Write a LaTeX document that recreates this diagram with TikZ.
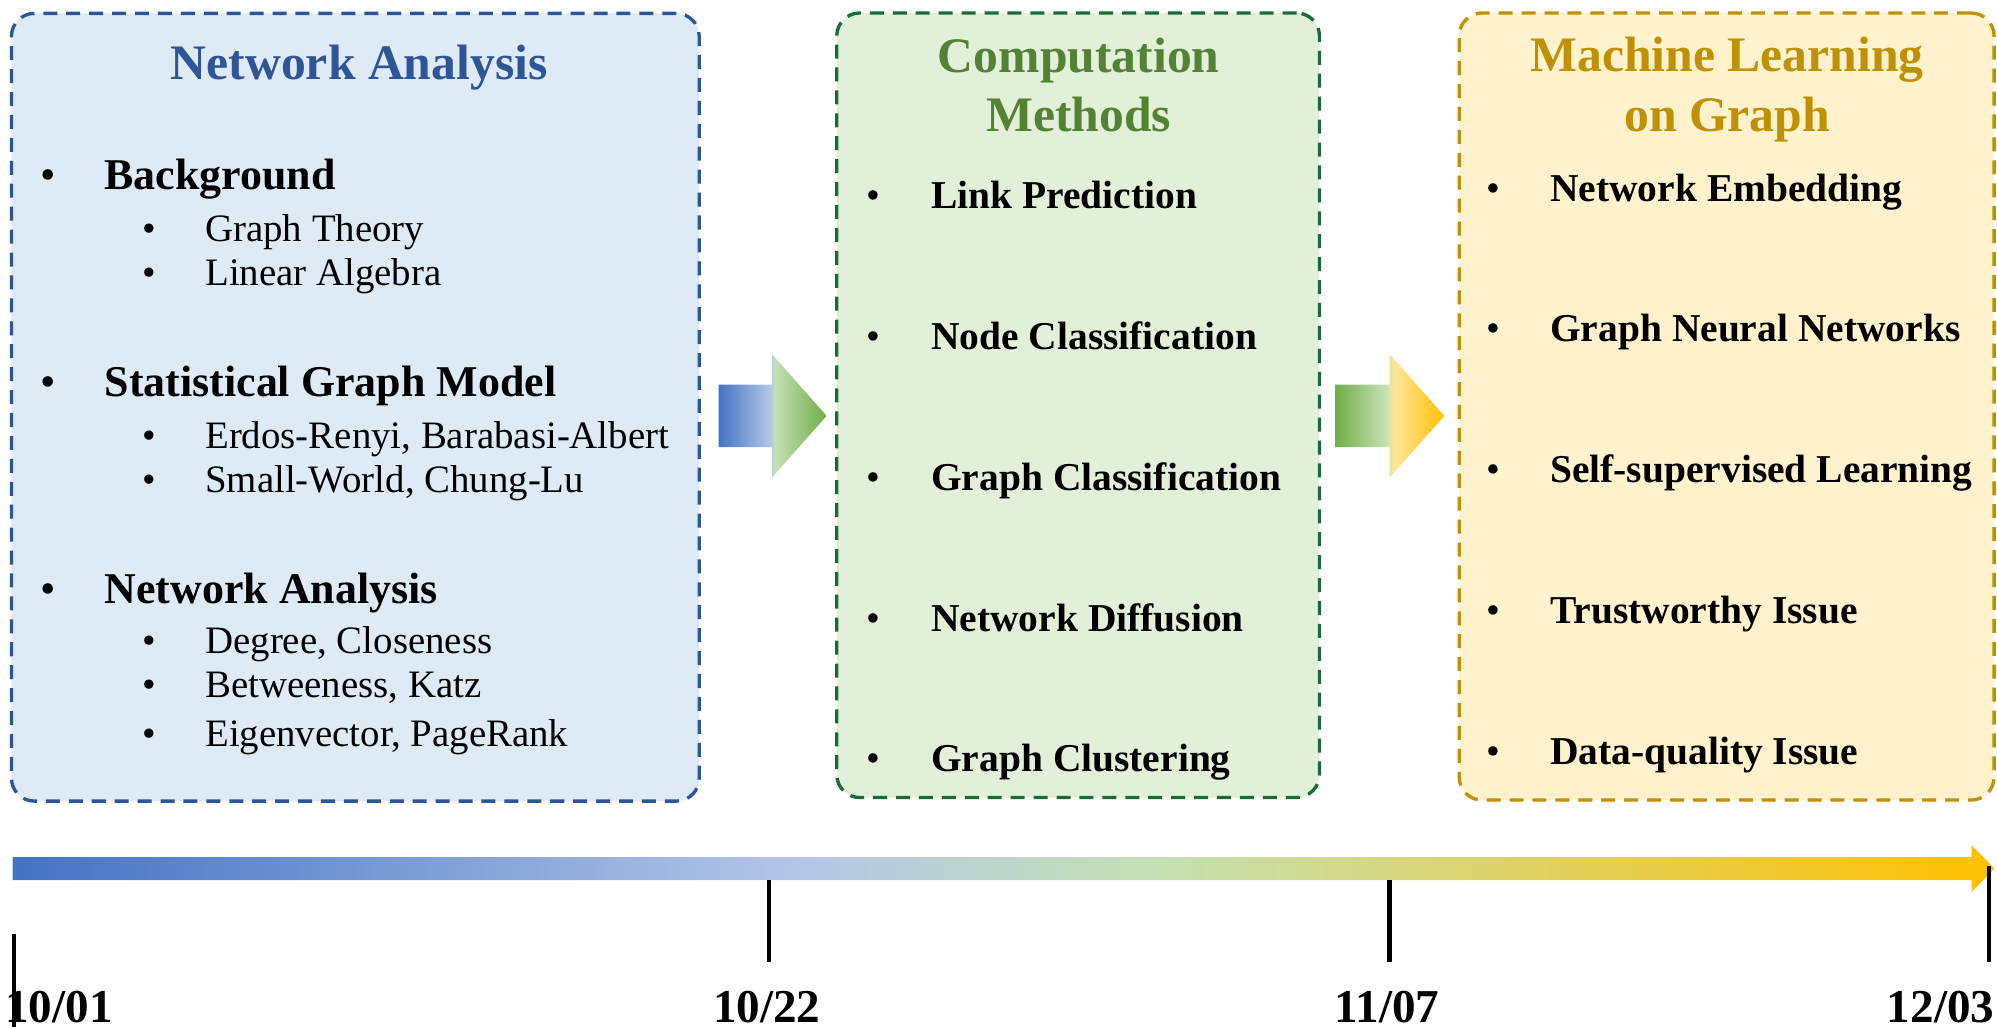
\documentclass[tikz,border=0pt]{standalone}
\usepackage{fontspec}
\setmainfont{Liberation Serif}
\usetikzlibrary{calc}

% palette
\definecolor{naBlue}{HTML}{2F5597}
\definecolor{naFill}{HTML}{DEEBF7}
\definecolor{cmGreen}{HTML}{548235}
\definecolor{cmLine}{HTML}{1B6B3A}
\definecolor{cmFill}{HTML}{E2F0D9}
\definecolor{mlGold}{HTML}{BF9000}
\definecolor{mlFill}{HTML}{FFF2CC}
\definecolor{gBlue}{HTML}{4472C4}
\definecolor{gPaleBlue}{HTML}{B4C7E7}
\definecolor{gPaleGreen}{HTML}{C5E0B4}
\definecolor{gGreen}{HTML}{70AD47}
\definecolor{gPaleGold}{HTML}{FFE699}
\definecolor{gGold}{HTML}{FFC000}

% gradients (the path box maps onto 25bp..75bp)
\pgfdeclarehorizontalshading{timebar}{100bp}{color(0bp)=(gBlue); color(25bp)=(gBlue);
  color(45bp)=(gPaleBlue); color(53.75bp)=(gPaleGreen); color(75bp)=(gGold); color(100bp)=(gGold)}
\pgfdeclarehorizontalshading{blueToGreen}{100bp}{color(0bp)=(gBlue); color(25bp)=(gBlue);
  color(49bp)=(gPaleBlue); color(51bp)=(gPaleGreen); color(75bp)=(gGreen); color(100bp)=(gGreen)}
\pgfdeclarehorizontalshading{greenToGold}{100bp}{color(0bp)=(gGreen); color(25bp)=(gGreen);
  color(48bp)=(gPaleGreen); color(52bp)=(gPaleGold); color(75bp)=(gGold); color(100bp)=(gGold)}

\begin{document}
\begin{tikzpicture}[x=1pt, y=-1pt,
  panel/.style={draw, rounded corners=18pt, line width=2.6pt,
    dash pattern=on 11pt off 7pt, inner sep=0pt},
  ptitle/.style={font=\fontsize{39}{46}\selectfont\bfseries, inner sep=0pt, anchor=base},
  lvlone/.style={font=\fontsize{34.5}{40}\selectfont\bfseries, inner sep=0pt, anchor=base west},
  lvltwo/.style={font=\fontsize{30.5}{36}\selectfont, inner sep=0pt, anchor=base west},
  itemtext/.style={font=\fontsize{31}{36}\selectfont\bfseries, inner sep=0pt, anchor=base west},
  dotone/.style={font=\fontsize{34.5}{40}\selectfont, inner sep=0pt, anchor=base},
  dottwo/.style={font=\fontsize{30.5}{36}\selectfont, inner sep=0pt, anchor=base},
  dotitem/.style={font=\fontsize{31}{36}\selectfont, inner sep=0pt, anchor=base},
  tick/.style={line width=3.2pt, black},
  datelabel/.style={font=\fontsize{37}{42}\selectfont\bfseries, inner sep=0pt}
]
\useasboundingbox (0,0) rectangle (1568,808);

% ---------- panels ----------
\node[panel, draw=naBlue, fill=naFill, minimum width=540pt, minimum height=618.5pt]
  (na) at (279,319.75) {};
\node[panel, draw=cmLine, fill=cmFill, minimum width=379pt, minimum height=616pt]
  (cm) at (846.5,318.2) {};
\node[panel, draw=mlGold, fill=mlFill, minimum width=420pt, minimum height=618pt]
  (ml) at (1355.7,319.2) {};

% ---------- Network Analysis panel ----------
\node[ptitle, text=naBlue] (naT) at (282,62.8) {Network Analysis};

\node[dotone] (b1) at (38,149) {\textbullet};
\node[lvlone] (b1t) at (82,149) {Background};
\node[dottwo] (b11) at (117,190) {\textbullet};
\node[lvltwo] (b11t) at (161,190) {Graph Theory};
\node[dottwo] (b12) at (117,224.5) {\textbullet};
\node[lvltwo] (b12t) at (161,224.5) {Linear Algebra};

\node[dotone] (b2) at (38,311.5) {\textbullet};
\node[lvlone] (b2t) at (82,311.5) {Statistical Graph Model};
\node[dottwo] (b21) at (117,352) {\textbullet};
\node[lvltwo] (b21t) at (161,352) {Erdos-Renyi, Barabasi-Albert};
\node[dottwo] (b22) at (117,387) {\textbullet};
\node[lvltwo] (b22t) at (161,387) {Small-World, Chung-Lu};

\node[dotone] (b3) at (38,473.5) {\textbullet};
\node[lvlone] (b3t) at (82,473.5) {Network Analysis};
\node[dottwo] (b31) at (117,513) {\textbullet};
\node[lvltwo] (b31t) at (161,513) {Degree, Closeness};
\node[dottwo] (b32) at (117,548) {\textbullet};
\node[lvltwo] (b32t) at (161,548) {Betweeness, Katz};
\node[dottwo] (b33) at (117,586) {\textbullet};
\node[lvltwo] (b33t) at (161,586) {Eigenvector, PageRank};

% ---------- Computation Methods panel ----------
\node[ptitle, text=cmGreen] (cmT1) at (847,57) {Computation};
\node[ptitle, text=cmGreen] (cmT2) at (847,103.5) {Methods};

\foreach \y/\txt [count=\i] in {164/Link Prediction, 274.5/Node Classification,
    385/Graph Classification, 495.5/Network Diffusion, 606/Graph Clustering}{
  \node[dotitem] (cmd\i) at (685.5,\y) {\textbullet};
  \node[itemtext] (cmi\i) at (731,\y) {\txt};
}

% ---------- Machine Learning on Graph panel ----------
\node[ptitle, text=mlGold] (mlT1) at (1356,56.4) {Machine Learning};
\node[ptitle, text=mlGold] (mlT2) at (1356,103.5) {on Graph};

\foreach \y/\txt [count=\i] in {158/Network Embedding, 268.5/Graph Neural Networks,
    379/Self-supervised Learning, 489.5/Trustworthy Issue, 600/Data-quality Issue}{
  \node[dotitem] (mld\i) at (1172.5,\y) {\textbullet};
  \node[itemtext] (mli\i) at (1217,\y) {\txt};
}

% ---------- block arrows between panels ----------
\coordinate (a1) at ($(na.east)+(14,0)$);
\shade[shading=blueToGreen]
  (a1 |- 0,302) -- (606,302) -- (606,278) -- (649,326.5) -- (606,375) -- (606,351)
  -- (a1 |- 0,351) -- cycle;
\coordinate (a2) at ($(cm.east)+(11,0)$);
\shade[shading=greenToGold]
  (a2 |- 0,302) -- (1091,302) -- (1091,278) -- (1134,326.5) -- (1091,375) -- (1091,351)
  -- (a2 |- 0,351) -- cycle;

% ---------- timeline ----------
\coordinate (tlStart) at (10,682);
\coordinate (tlEnd) at (1566,682);
\shade[shading=timebar]
  (tlStart |- 0,673) -- (1548,673) -- (1548,663.5) -- (tlEnd) -- (1548,700.5)
  -- (1548,691) -- (tlStart |- 0,691) -- cycle;

\coordinate (t1a) at (11,733);    \coordinate (t1b) at (11,806);
\coordinate (t2a) at (604,691);   \coordinate (t2b) at (604,755);
\coordinate (t3a) at (1091,691);  \coordinate (t3b) at (1091,755);
\coordinate (t4a) at (1562,680);  \coordinate (t4b) at (1562,755);
\draw[tick] (t1a) -- (t1b);
\draw[tick] (t2a) -- (t2b);
\draw[tick] (t3a) -- (t3b);
\draw[tick] (t4a) -- (t4b);

\node[datelabel, anchor=base west] (d1) at (4,803) {10/01};
\node[datelabel, anchor=base] (d2) at (602,803) {10/22};
\node[datelabel, anchor=base] (d3) at (1089,803) {11/07};
\node[datelabel, anchor=base east] (d4) at (1566,803) {12/03};
\end{tikzpicture}
\end{document}
